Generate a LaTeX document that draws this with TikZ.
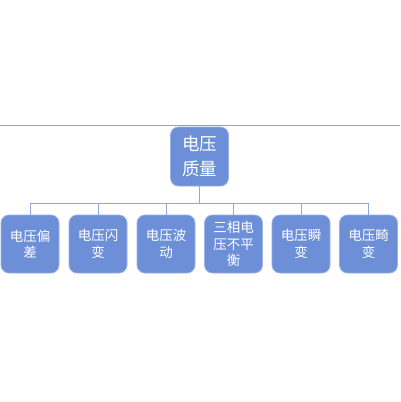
\documentclass[tikz,border=0pt]{standalone}
\usepackage{fontspec}
\setmainfont{Noto Sans CJK SC}
\begin{document}
\begin{tikzpicture}[x=1pt,y=-1pt,
  box/.style={draw=boxline,fill=boxfill,rounded corners=8pt,line width=0.8pt,text=white,align=center,inner sep=0pt},
  conn/.style={draw=connline,line width=1pt}]
\definecolor{boxfill}{HTML}{6D8FD8}
\definecolor{boxline}{HTML}{9AB2E4}
\definecolor{connline}{HTML}{8DA9DE}
\definecolor{rule}{HTML}{A0A0A0}
\useasboundingbox (0,0) rectangle (400,402);
\coordinate (rl) at (0,125);
\coordinate (rr) at (400,125);
\draw[rule,line width=0.8pt] (rl) -- (rr);
\node[box,minimum width=58pt,minimum height=59pt,font=\fontsize{17.5}{25}\selectfont] (top) at (199.5,156.5) {电压\\质量};
\foreach \n/\x/\t in {a/30/{电压偏\\差},b/98/{电压闪\\变},c/166/{电压波\\动},d/233.5/{三相电\\压不平\\衡},e/301/{电压瞬\\变},f/368.5/{电压畸\\变}}{
  \node[box,minimum width=58pt,minimum height=58pt,font=\fontsize{13.5}{16.5}\selectfont] (\n) at (\x,244) {\t};
}
\coordinate (j) at (199.5,203);
\draw[conn] (top.south) -- (j);
\foreach \n in {a,b,c,d,e,f}{
  \draw[conn] (j) -| (\n.north);
}
\end{tikzpicture}
\end{document}
